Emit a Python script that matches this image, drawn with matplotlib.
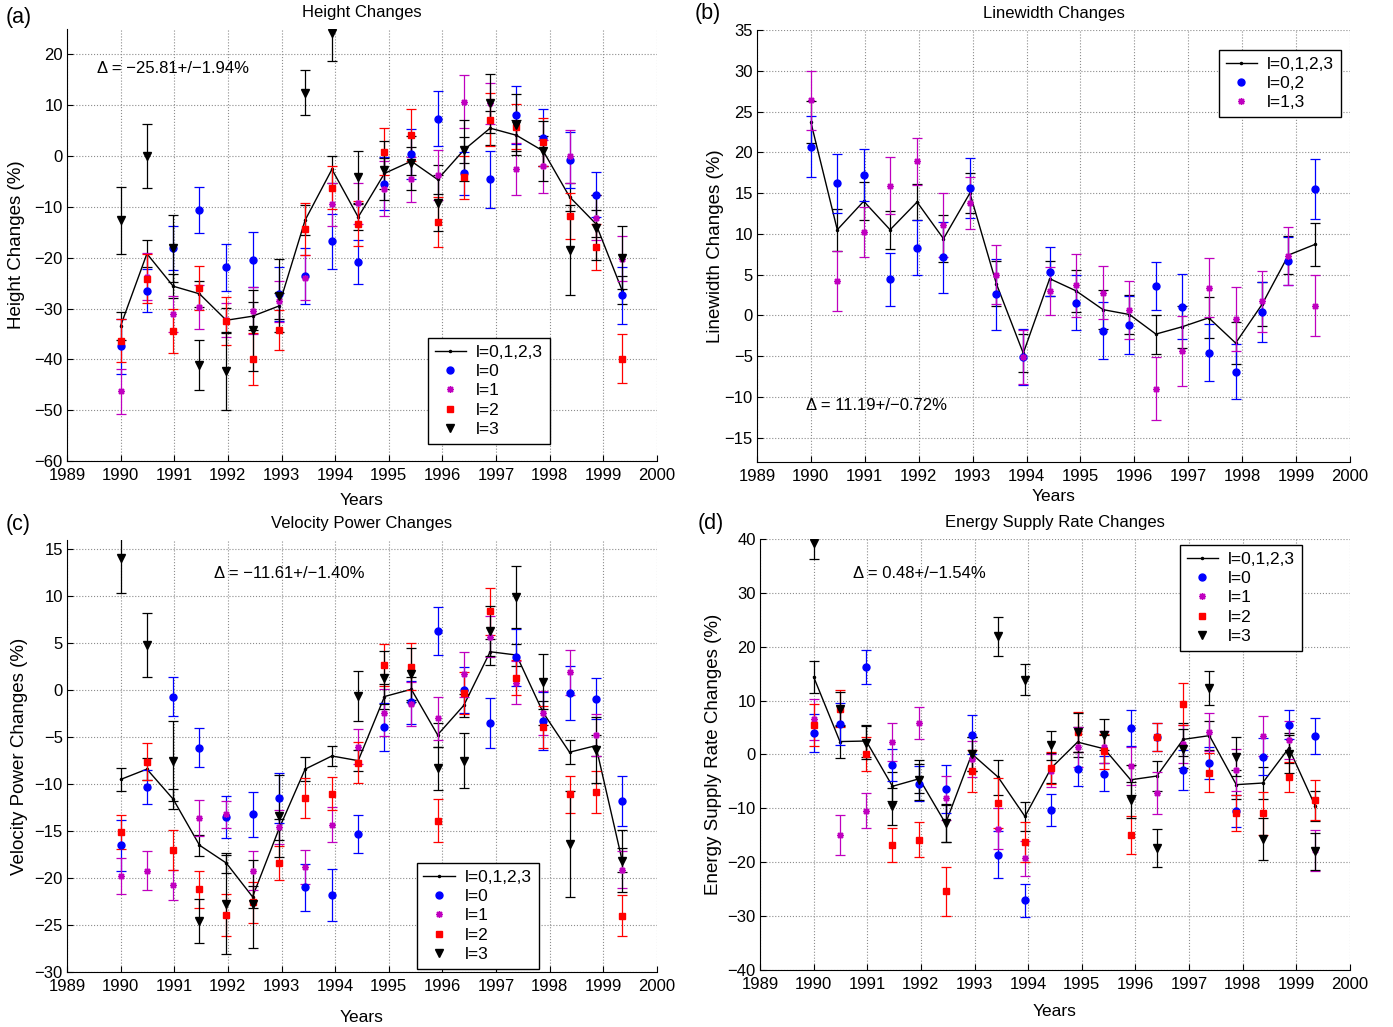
import numpy as np
import matplotlib
matplotlib.use('Agg')
import matplotlib.pyplot as plt
from matplotlib.lines import Line2D

plt.rcParams['font.family'] = ['Liberation Sans', 'DejaVu Sans']
plt.rcParams['font.size'] = 12

# observation epochs (years)
years = [1990.00, 1990.49, 1990.98, 1991.47, 1991.97, 1992.46, 1992.95, 1993.44, 1993.94, 1994.43,
         1994.92, 1995.42, 1995.91, 1996.40, 1996.89, 1997.38, 1997.88, 1998.37, 1998.86, 1999.35]
nan = np.nan

# (a) height changes
a_all = [-33.4, -19.2, -25.6, -27.1, -32.3, -31.5, -29.5, -12.6, -2.6, -12.0, -3.4, -1.0, -4.6, 1.2, 5.5, 4.1, 1.0, -8.0, -13.3, -26.4]
a_all_err = [2.7, 2.6, 2.4, 2.5, 2.5, 2.8, 2.5, 3.0, 2.7, 2.6, 3.0, 2.8, 2.8, 2.5, 3.3, 3.0, 3.0, 2.8, 2.6, 2.8]
a_l0 = [-37.4, -26.5, -18.1, -10.6, -21.9, -20.4, -27.1, -23.6, -16.8, -20.8, -5.4, 0.4, 7.4, -3.4, -4.6, 8.0, 3.6, -0.8, -7.6, -27.4]
a_l0_err = [5.4, 4.2, 4.4, 4.5, 4.7, 5.4, 5.3, 5.5, 5.4, 4.3, 5.3, 5.0, 5.4, 4.3, 5.6, 5.7, 5.6, 5.5, 4.4, 5.6]
a_l1 = [-46.3, -23.7, -31.1, -29.7, -32.2, -30.4, -28.6, -23.9, -9.5, -9.3, -6.4, -4.6, -3.7, 10.7, 10.4, -2.6, -2.0, 0.0, -12.1, -20.2]
a_l1_err = [4.4, 4.7, 3.5, 4.3, 3.3, 4.6, 4.0, 4.4, 4.3, 4.1, 5.4, 4.5, 4.9, 5.2, 4.0, 5.1, 5.2, 5.2, 4.4, 4.4]
a_l2 = [-36.3, -24.1, -34.4, -26.0, -32.5, -40.0, -34.2, -14.4, -6.2, -13.3, 0.9, 4.1, -12.9, -4.2, 7.2, 5.8, 2.8, -11.8, -17.9, -39.9]
a_l2_err = [4.3, 4.8, 4.4, 4.3, 4.7, 5.1, 4.0, 5.1, 4.2, 4.4, 4.7, 5.1, 4.9, 4.3, 5.3, 4.4, 4.7, 4.6, 4.5, 4.8]
a_l3 = [-12.6, 0.0, -18.1, -41.1, -42.3, -34.3, -27.5, 12.5, 24.3, -4.1, -2.8, -1.4, -9.3, 1.2, 10.4, 6.2, 1.0, -18.5, -14.1, -20.0]
a_l3_err = [6.6, 6.3, 6.6, 4.9, 7.7, 7.9, 7.2, 4.5, 5.5, 5.1, 5.8, 5.3, 5.5, 6.0, 5.8, 6.0, 5.9, 8.9, 6.4, 6.2]

# (b) linewidth changes
b_all = [23.7, 10.5, 14.0, 10.5, 13.9, 9.4, 15.0, 3.9, -4.65, 4.5, 3.0, 0.7, 0.1, -2.3, -1.4, -0.3, -3.4, 1.35, 7.4, 8.7]
b_all_err = [2.55, 2.55, 2.3, 2.35, 2.2, 2.9, 2.45, 2.75, 2.35, 2.15, 2.6, 2.4, 2.45, 2.4, 2.6, 2.5, 2.6, 2.7, 2.3, 2.6]
b_l02 = [20.7, 16.2, 17.2, 4.4, 8.3, 7.1, 15.6, 2.6, -5.1, 5.35, 1.55, -1.9, -1.2, 3.6, 1.05, -4.6, -6.9, 0.37, 6.7, 15.5]
b_l02_err = [3.7, 3.6, 3.2, 3.2, 3.4, 4.3, 3.7, 4.35, 3.4, 3.0, 3.4, 3.5, 3.6, 2.9, 4.0, 3.5, 3.4, 3.7, 2.95, 3.65]
b_l13 = [26.4, 4.2, 10.2, 15.9, 18.9, 11.1, 13.8, 5.0, -5.1, 3.0, 3.7, 2.8, 0.65, -9.0, -4.4, 3.4, -0.45, 1.7, 7.3, 1.2]
b_l13_err = [3.6, 3.65, 3.1, 3.5, 2.85, 3.9, 3.2, 3.6, 3.3, 2.95, 3.85, 3.3, 3.6, 3.9, 4.3, 3.6, 3.95, 3.8, 3.6, 3.7]

# (c) velocity power changes
c_all = [-9.5, -8.4, -11.6, -16.5, -18.4, -22.0, -14.8, -8.4, -7.0, -7.5, -0.67, 0.1, -4.75, -1.6, 4.1, 3.75, -2.4, -6.6, -5.9, -18.1]
c_all_err = [1.2, 1.15, 1.05, 1.1, 1.05, 1.2, 1.1, 1.25, 1.1, 1.1, 1.3, 1.3, 1.3, 1.2, 1.4, 1.15, 1.3, 1.25, 1.15, 1.3]
c_l0 = [-16.5, -10.3, -0.67, -6.1, -13.5, -13.2, -11.5, -21.0, -21.8, -15.3, -3.9, -1.3, 6.3, 0.03, -3.5, 3.5, -3.3, -0.3, -0.9, -11.8]
c_l0_err = [2.7, 1.8, 2.1, 2.1, 2.2, 2.4, 2.65, 2.5, 2.75, 2.05, 2.55, 2.3, 2.6, 2.45, 2.65, 3.0, 3.1, 2.9, 2.2, 2.7]
c_l1 = [-19.8, -19.2, -20.7, -13.6, -13.2, -19.2, -14.6, -18.8, -14.3, -6.0, -2.4, -1.5, -3.0, 1.7, 5.7, 0.8, -2.4, 1.9, -4.75, -19.1]
c_l1_err = [1.95, 2.05, 1.6, 1.95, 1.45, 2.05, 1.8, 1.8, 1.9, 1.9, 2.5, 2.35, 2.3, 2.4, 2.2, 2.3, 2.35, 2.4, 2.2, 1.95]
c_l2 = [-15.1, -7.6, -17.0, -21.2, -23.9, -22.6, -18.4, -11.5, -11.0, -7.7, 2.7, 2.5, -13.9, -0.3, 8.4, 1.35, -3.9, -11.1, -10.8, -24.0]
c_l2_err = [1.85, 2.0, 2.1, 2.0, 2.25, 2.2, 1.8, 2.15, 1.8, 2.15, 2.2, 2.5, 2.3, 2.2, 2.5, 1.85, 2.2, 2.0, 2.25, 2.2]
c_l3 = [14.1, 4.8, -7.5, -24.6, -22.8, -22.8, -13.4, nan, nan, -0.6, 1.35, 1.7, -8.3, -7.5, 6.3, 9.95, 0.9, -16.4, -6.4, -18.2]
c_l3_err = [3.7, 3.4, 4.25, 2.35, 5.3, 4.7, 4.4, nan, nan, 2.7, 2.85, 2.75, 2.3, 2.95, 2.65, 3.3, 2.95, 5.65, 3.5, 3.3]

# (d) energy supply rate changes
d_all = [14.4, 2.4, 2.5, -5.9, -4.5, -12.8, 0.1, -4.2, -11.5, -2.5, 2.3, 1.05, -4.7, -4.0, 2.8, 3.5, -5.6, -5.3, 1.2, -9.5]
d_all_err = [2.95, 3.0, 3.0, 2.7, 2.7, 3.5, 3.2, 3.25, 2.7, 2.7, 2.8, 2.6, 2.8, 2.7, 3.0, 2.7, 2.7, 2.9, 2.7, 2.8]
d_l0 = [4.0, 5.7, 16.2, -1.9, -5.4, -6.4, 3.7, -18.6, -27.1, -10.3, -2.7, -3.6, 4.9, 3.2, -2.85, -1.55, -10.5, -0.4, 5.5, 3.4]
d_l0_err = [3.5, 3.9, 3.1, 3.0, 3.3, 4.4, 3.6, 4.4, 3.15, 2.9, 3.15, 3.25, 3.35, 2.6, 3.7, 3.0, 3.0, 3.5, 2.7, 3.4]
d_l1 = [6.5, -14.9, -10.4, 2.3, 5.8, -8.1, -0.8, -13.8, -19.3, -3.0, 1.4, 1.4, -2.2, -7.2, 2.0, 4.15, -2.85, 3.5, 2.7, -17.8]
d_l1_err = [3.8, 3.7, 3.25, 3.5, 3.0, 4.1, 3.35, 3.8, 3.25, 3.0, 3.7, 3.0, 3.55, 3.9, 3.5, 3.5, 3.9, 3.7, 3.6, 3.85]
d_l2 = [5.5, 8.5, 0.1, -16.8, -15.8, -25.4, -3.0, -9.0, -16.2, -2.5, 4.15, 0.6, -15.0, 3.2, 9.4, -3.4, -10.9, -10.9, -4.2, -8.5]
d_l2_err = [3.95, 3.4, 3.1, 3.15, 3.2, 4.55, 3.9, 4.7, 3.7, 2.9, 3.7, 3.25, 3.5, 2.6, 3.9, 3.6, 3.3, 4.0, 2.8, 3.7]
d_l3 = [39.3, 8.4, 2.2, -9.6, -4.8, -12.7, 0.1, 21.9, 13.9, 1.7, 4.15, 3.65, -8.4, -17.3, 1.05, 12.4, -0.4, -15.7, 0.1, -18.0]
d_l3_err = [2.97, 3.2, 3.0, 3.4, 3.7, 3.5, 3.2, 3.65, 2.9, 2.7, 3.6, 2.9, 3.3, 3.5, 3.6, 3.15, 3.6, 3.9, 3.5, 3.4]

CAP = 3.5
ASTER = (8, 2, 0)  # asterisk marker
styles = {
    'l0': dict(marker='o', color='b', ms=5),
    'l1': dict(marker=ASTER, color='m', ms=5),
    'l2': dict(marker='s', color='r', ms=4.5),
    'l3': dict(marker='v', color='k', ms=6),
}


def setup(ax, title, ylabel, ylim, yticks, xpad, ypad):
    ax.set_xlim(1989, 2000)
    ax.set_ylim(*ylim)
    ax.set_xticks(range(1989, 2001))
    ax.set_yticks(yticks)
    ax.grid(True, linestyle=':', color='0.55', linewidth=0.8)
    ax.set_axisbelow(True)
    ax.spines['top'].set_visible(False)
    ax.spines['right'].set_visible(False)
    ax.tick_params(direction='in', length=4, labelsize=12)
    ax.tick_params(axis='x', pad=5)
    ax.tick_params(axis='y', pad=3)
    ax.set_title(title, fontsize=12, pad=8.5)
    ax.set_xlabel('Years', fontsize=12.5, labelpad=xpad)
    ax.set_ylabel(ylabel, fontsize=13.5, labelpad=ypad)


def draw_all(ax, y, err):
    ax.errorbar(years, y, yerr=err, fmt='-', marker='.', ms=3, color='k', lw=1,
                elinewidth=0.9, capsize=CAP, capthick=0.9, zorder=3)


def draw_series(ax, key, y, err):
    st = styles[key]
    ax.errorbar(years, y, yerr=err, fmt='none', ecolor=st['color'],
                elinewidth=0.9, capsize=CAP, capthick=0.9, zorder=4)
    ax.plot(years, y, ls='none', marker=st['marker'], color=st['color'], ms=st['ms'],
            mew=1, zorder=5)


def add_legend(ax, handles, labels, anchor):
    leg = ax.legend(handles, labels, loc='upper left', bbox_to_anchor=anchor,
                    borderaxespad=0, fancybox=False, framealpha=1, edgecolor='k',
                    fontsize=12.5, handlelength=1.8, handletextpad=0.6,
                    labelspacing=0.24, borderpad=0.38)
    leg.get_frame().set_linewidth(1.0)
    leg.set_zorder(10)


h_all = Line2D([], [], color='k', lw=1, marker='.', ms=3)
h_l0 = Line2D([], [], color='b', ls='none', marker='o', ms=5)
h_l1 = Line2D([], [], color='m', ls='none', marker=ASTER, ms=5, mew=1)
h_l2 = Line2D([], [], color='r', ls='none', marker='s', ms=4.5)
h_l3 = Line2D([], [], color='k', ls='none', marker='v', ms=6)
full_handles = [h_all, h_l0, h_l1, h_l2, h_l3]
full_labels = ['l=0,1,2,3', 'l=0', 'l=1', 'l=2', 'l=3']

fig = plt.figure(figsize=(13.93, 10.27), dpi=100)
ax_a = fig.add_axes([0.0481, 0.5511, 0.4235, 0.4206])
ax_b = fig.add_axes([0.5434, 0.5501, 0.4257, 0.4206])
ax_c = fig.add_axes([0.0481, 0.0536, 0.4235, 0.4206])
ax_d = fig.add_axes([0.5456, 0.0555, 0.4235, 0.4197])

# (a)
setup(ax_a, 'Height Changes', 'Height Changes (%)', (-60, 25), range(-60, 21, 10), 7, 6.5)
draw_all(ax_a, a_all, a_all_err)
draw_series(ax_a, 'l0', a_l0, a_l0_err)
draw_series(ax_a, 'l1', a_l1, a_l1_err)
draw_series(ax_a, 'l2', a_l2, a_l2_err)
draw_series(ax_a, 'l3', a_l3, a_l3_err)
ax_a.text(1989.56, 17.2, 'Δ = −25.81+/−1.94%', fontsize=12, va='center')
add_legend(ax_a, full_handles, full_labels, (0.612, 0.285))

# (b)
setup(ax_b, 'Linewidth Changes', 'Linewidth Changes (%)', (-18, 35), range(-15, 36, 5), 3.6, 0.5)
draw_all(ax_b, b_all, b_all_err)
draw_series(ax_b, 'l0', b_l02, b_l02_err)
draw_series(ax_b, 'l1', b_l13, b_l13_err)
ax_b.text(1989.91, -11.1, 'Δ = 11.19+/−0.72%', fontsize=12, va='center')
add_legend(ax_b, [h_all, h_l0, h_l1], ['l=0,1,2,3', 'l=0,2', 'l=1,3'], (0.779, 0.954))

# (c)
setup(ax_c, 'Velocity Power Changes', 'Velocity Power Changes (%)', (-30, 16), range(-30, 16, 5), 11.5, 4.3)
draw_all(ax_c, c_all, c_all_err)
draw_series(ax_c, 'l0', c_l0, c_l0_err)
draw_series(ax_c, 'l1', c_l1, c_l1_err)
draw_series(ax_c, 'l2', c_l2, c_l2_err)
draw_series(ax_c, 'l3', c_l3, c_l3_err)
ax_c.text(1991.74, 12.4, 'Δ = −11.61+/−1.40%', fontsize=12, va='center')
add_legend(ax_c, full_handles, full_labels, (0.593, 0.252))

# (d)
setup(ax_d, 'Energy Supply Rate Changes', 'Energy Supply Rate Changes (%)', (-40, 40), range(-40, 41, 10), 8.6, 3.6)
draw_all(ax_d, d_all, d_all_err)
draw_series(ax_d, 'l0', d_l0, d_l0_err)
draw_series(ax_d, 'l1', d_l1, d_l1_err)
draw_series(ax_d, 'l2', d_l2, d_l2_err)
draw_series(ax_d, 'l3', d_l3, d_l3_err)
ax_d.text(1990.74, 33.6, 'Δ = 0.48+/−1.54%', fontsize=12, va='center')
add_legend(ax_d, full_handles, full_labels, (0.712, 0.986))

# panel letters
fig.text(0.004, 0.983, '(a)', fontsize=15.5, va='center')
fig.text(0.499, 0.987, '(b)', fontsize=15.5, va='center')
fig.text(0.004, 0.489, '(c)', fontsize=15.5, va='center')
fig.text(0.501, 0.490, '(d)', fontsize=15.5, va='center')

fig.savefig('out.png', dpi=100)
